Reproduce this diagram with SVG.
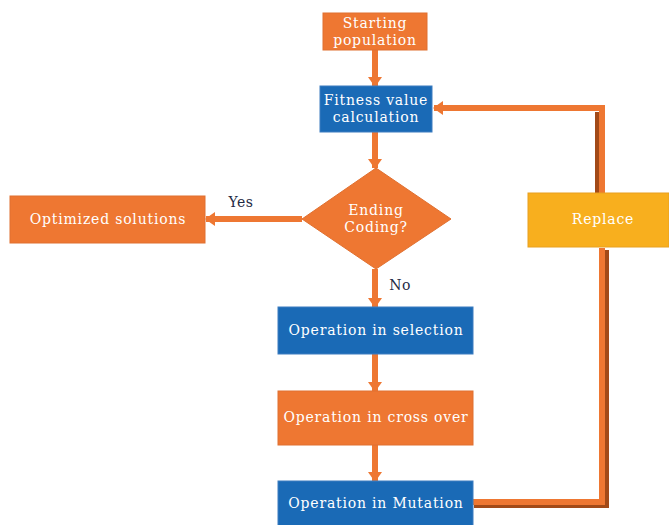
<svg xmlns="http://www.w3.org/2000/svg" width="669" height="525" viewBox="0 0 669 525">
<defs>
<style>
.orange{fill:#EE7732;stroke:#E07030;stroke-width:1}
.blue{fill:#1A6AB6;stroke:#3C7DC0;stroke-width:1}
.yellow{fill:#F8AF1E;stroke:#E8A020;stroke-width:1}
.t{font-family:"DejaVu Serif","Liberation Serif",serif;font-size:14px;letter-spacing:0.8px;fill:#FFFFFF;text-anchor:middle}
.lbl{font-family:"DejaVu Serif","Liberation Serif",serif;font-size:14px;letter-spacing:0.5px;fill:#1F2A44;text-anchor:middle}
.shaft{stroke:#EE7732;stroke-width:6;fill:none}
.shade{stroke:#A24A18;stroke-width:8;fill:none}
.fb{stroke:#EE7732;stroke-width:6;fill:none;stroke-linejoin:miter}
</style>
<marker id="ah" markerUnits="userSpaceOnUse" markerWidth="12" markerHeight="14" refX="9" refY="7" orient="auto">
<path d="M0,0 L10,7 L0,14 z" fill="#EE7732"/>
</marker>
</defs>
<rect width="669" height="525" fill="#FFFFFF"/>
<g id="connectors">
<line class="shaft" x1="375" y1="50" x2="375" y2="86" marker-end="url(#ah)"/>
<line class="shaft" x1="375" y1="132" x2="375" y2="168" marker-end="url(#ah)"/>
<line class="shaft" x1="302" y1="219" x2="206" y2="219" marker-end="url(#ah)"/>
<line class="shaft" x1="375" y1="269" x2="375" y2="307" marker-end="url(#ah)"/>
<line class="shaft" x1="375" y1="354" x2="375" y2="391" marker-end="url(#ah)"/>
<line class="shaft" x1="375" y1="445" x2="375" y2="481" marker-end="url(#ah)"/>
<polyline class="shade" points="474,504 605,504 605,250"/>
<polyline class="fb" points="473,502 602,502 602,248"/>
<polyline class="shade" points="599,193 599,112"/>
<polyline class="fb" points="602,193 602,108 434,108" marker-end="url(#ah)"/>
<text class="lbl" x="241" y="207">Yes</text>
<text class="lbl" x="400" y="290">No</text>
</g>
<g id="start">
<rect class="orange" x="323" y="13" width="104" height="37"/>
<text class="t" x="375" y="28">Starting</text>
<text class="t" x="375" y="45">population</text>
</g>
<g id="fitness">
<rect class="blue" x="320" y="86" width="112" height="46"/>
<text class="t" x="376" y="105">Fitness value</text>
<text class="t" x="376" y="122">calculation</text>
</g>
<g id="ending">
<polygon class="orange" points="376,168 451,219 376,269 302,219"/>
<text class="t" x="376" y="215">Ending</text>
<text class="t" x="376" y="232">Coding?</text>
</g>
<g id="optimized">
<rect class="orange" x="10" y="196" width="195" height="47"/>
<text class="t" x="108" y="224">Optimized solutions</text>
</g>
<g id="replace">
<rect class="yellow" x="528" y="193" width="141" height="54"/>
<text class="t" x="603" y="224">Replace</text>
</g>
<g id="selection">
<rect class="blue" x="278" y="307" width="195" height="47"/>
<text class="t" x="376" y="335">Operation in selection</text>
</g>
<g id="crossover">
<rect class="orange" x="278" y="391" width="195" height="54"/>
<text class="t" x="376" y="422">Operation in cross over</text>
</g>
<g id="mutation">
<rect class="blue" x="278" y="481" width="195" height="50"/>
<text class="t" x="376" y="508">Operation in Mutation</text>
</g>
</svg>
